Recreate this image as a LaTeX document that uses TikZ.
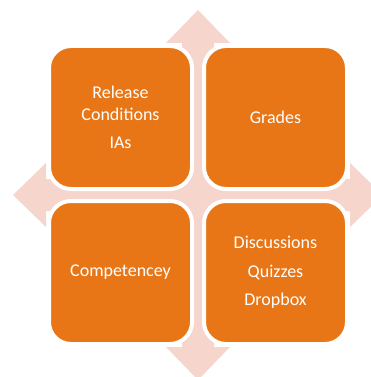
\documentclass[tikz,border=0pt]{standalone}
\usepackage{fontspec}
\setmainfont{Carlito}
\usetikzlibrary{positioning}
\definecolor{tileorange}{RGB}{232,118,22}
\definecolor{crosspink}{RGB}{245,213,204}
\tikzset{
  tile/.style={rectangle, rounded corners=22pt, fill=tileorange, draw=white,
    line width=4pt, minimum size=143pt, outer sep=0pt, text=white, align=center,
    font=\fontsize{18}{21.6}\selectfont},
  arm/.style={fill=crosspink}
}
\begin{document}
\begin{tikzpicture}[x=1pt,y=-1pt,node distance=12pt]
\clip (0,0) rectangle (371,377);
\coordinate (hub) at (198,195);
% four-way arrow behind the tiles
\foreach \ang in {0,90,180,270}
  \fill[arm, rotate around={\ang:(hub)}] (hub) ++(-16,0) -- ++(0,-152) -- ++(-16,0)
    -- ++(32,-33) -- ++(32,33) -- ++(-16,0) -- ++(0,152) -- cycle;
% tiles
\node[tile] (relcond) at (120.5,117.5) {Release\\Conditions\\[7pt]IAs};
\node[tile, right=of relcond] (grades) {Grades};
\node[tile, below=of relcond] (compet) {Competencey};
\node[tile, below=of grades] (tasks) {Discussions\\[7pt]Quizzes\\[7pt]Dropbox};
\end{tikzpicture}
\end{document}
